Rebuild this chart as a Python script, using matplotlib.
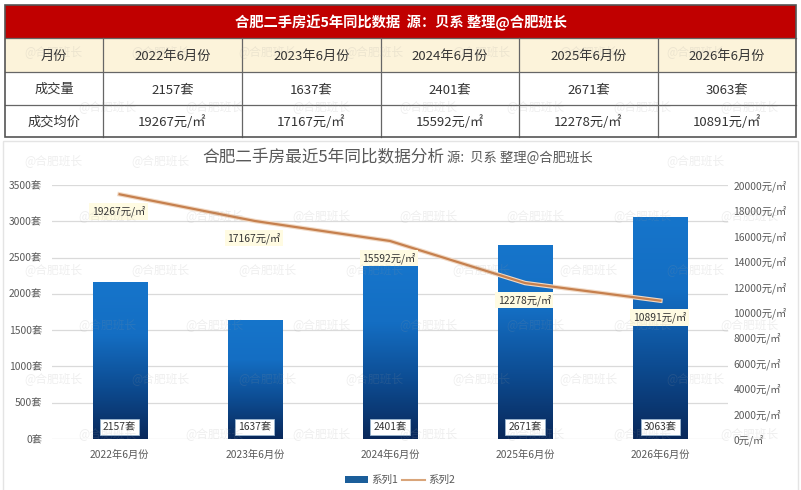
import matplotlib

matplotlib.use("Agg")
import matplotlib.pyplot as plt
import matplotlib.patheffects as pe
import numpy as np
from matplotlib.colors import LinearSegmentedColormap
from matplotlib.lines import Line2D
from matplotlib.patches import Patch, Rectangle

plt.rcParams["font.family"] = ["Noto Sans CJK SC", "DejaVu Sans"]

# data
months = ["2022年6月份", "2023年6月份", "2024年6月份", "2025年6月份", "2026年6月份"]
volumes = [2157, 1637, 2401, 2671, 3063]
prices = [19267, 17167, 15592, 12278, 10891]
vol_ticks = [0, 500, 1000, 1500, 2000, 2500, 3000, 3500]
price_ticks = [0, 2000, 4000, 6000, 8000, 10000, 12000, 14000, 16000, 18000, 20000]

table_title = "合肥二手房近5年同比数据  源：贝系 整理@合肥班长"
chart_title = "合肥二手房最近5年同比数据分析"
chart_source = "源:  贝系 整理@合肥班长"
row_names = ["月份", "成交量", "成交均价"]

W, H = 801, 490
RED = "#C00000"
GREY = "#595959"
LINE = "#C6804E"

fig = plt.figure(figsize=(W / 100, H / 100), dpi=100)
bg = fig.add_axes([0, 0, 1, 1])
bg.set_xlim(0, W)
bg.set_ylim(H, 0)
bg.axis("off")

# ---- table ----
col_x = [5, 103, 242, 381, 519, 658, 796]
row_y = [5, 38, 72, 105, 137]
bg.add_patch(Rectangle((col_x[0], row_y[0]), col_x[-1] - col_x[0], row_y[1] - row_y[0],
                       facecolor=RED, edgecolor="none", zorder=1))
bg.add_patch(Rectangle((col_x[0], row_y[1]), col_x[-1] - col_x[0], row_y[2] - row_y[1],
                       facecolor="#FCF3DA", edgecolor="none", zorder=1))
bg.text((col_x[0] + col_x[-1]) / 2, (row_y[0] + row_y[1]) / 2 + 1, table_title,
        color="white", fontsize=10.3, fontweight="bold", ha="center", va="center", zorder=3)
for y in row_y[1:-1]:
    bg.plot([col_x[0], col_x[-1]], [y, y], color="#666666", lw=0.9, zorder=2)
for x in col_x[1:-1]:
    bg.plot([x, x], [row_y[1], row_y[-1]], color="#666666", lw=0.9, zorder=2)
bg.add_patch(Rectangle((col_x[0], row_y[0]), col_x[-1] - col_x[0], row_y[-1] - row_y[0],
                       facecolor="none", edgecolor="#555555", lw=1.2, zorder=2))

cells = [months, [f"{v}套" for v in volumes], [f"{p}元/㎡" for p in prices]]
for r, (name, vals) in enumerate(zip(row_names, cells)):
    yc = (row_y[r + 1] + row_y[r + 2]) / 2 + 1
    bg.text((col_x[0] + col_x[1]) / 2, yc, name, fontsize=9.5, color="#333333",
            ha="center", va="center", zorder=3)
    for c, v in enumerate(vals):
        bg.text((col_x[c + 1] + col_x[c + 2]) / 2, yc, v, fontsize=9.5, color="#333333",
                ha="center", va="center", zorder=3)

# chart frame
bg.add_patch(Rectangle((3, 141), 795, 360, facecolor="none", edgecolor="#E4E4E4", lw=1, zorder=1))

# ---- chart ----
ax = fig.add_axes([52 / W, (H - 439) / H, 676 / W, 254 / H])
ax.patch.set_alpha(0)
x = np.arange(len(months))
bars = ax.bar(x, volumes, width=0.4, color="#1565B8", edgecolor="#6FC3EE", lw=0.6, zorder=2)
cmap = LinearSegmentedColormap.from_list("blu", ["#09285A", "#0D4C92", "#146EC3", "#1675CB"])
grad = np.linspace(0, 1, 256).reshape(-1, 1)
for b in bars:
    im = ax.imshow(grad, extent=[b.get_x(), b.get_x() + b.get_width(), 0, b.get_height()],
                   origin="lower", aspect="auto", cmap=cmap, zorder=2.1)
    im.set_clip_path(b)
ax.set_xlim(-0.5, len(months) - 0.5)
ax.set_ylim(0, 3500)
ax.set_yticks(vol_ticks)
ax.set_yticklabels([f"{v}套" for v in vol_ticks])
ax.set_xticks(x)
ax.set_xticklabels(months)
ax.tick_params(axis="both", length=0, labelsize=7.4, colors=GREY)
ax.tick_params(axis="y", pad=7)
ax.tick_params(axis="x", pad=8)
ax.grid(axis="y", color="#DADADA", lw=0.9)
ax.set_axisbelow(True)
for s in ax.spines.values():
    s.set_visible(False)

for i, v in enumerate(volumes):
    ax.annotate(f"{v}套", (i, 0), xytext=(0, 12), textcoords="offset pixels",
                ha="center", va="center", fontsize=7.4, color="#333333", zorder=4,
                bbox=dict(boxstyle="square,pad=0.3", facecolor="white", edgecolor="#9DB7D0", lw=0.6))

ax2 = ax.twinx()
ax2.set_ylim(0, 20000)
ax2.set_yticks(price_ticks)
ax2.set_yticklabels([f"{p}元/㎡" for p in price_ticks])
ax2.tick_params(axis="y", length=0, labelsize=7.4, colors=GREY, pad=4)
for s in ax2.spines.values():
    s.set_visible(False)
ax2.plot(x, prices, color=LINE, lw=1.6, zorder=3,
         path_effects=[pe.Stroke(linewidth=3.2, foreground="#F1D9C4"), pe.Normal()])
for i, p in enumerate(prices):
    ax2.annotate(f"{p}元/㎡", (i, p), xytext=(-1, -17), textcoords="offset pixels",
                 ha="center", va="center", fontsize=7.4, color="#333333", zorder=5,
                 bbox=dict(boxstyle="square,pad=0.25", facecolor="#FFFBE2", edgecolor="none"))

# title
fig.text(444 / W, 1 - 158 / H, chart_title, fontsize=12, color=GREY, ha="right", va="center")
fig.text(447 / W, 1 - 158 / H, chart_source, fontsize=9.6, color=GREY, ha="left", va="center")

# legend
handles = [Patch(facecolor="#1B5E9A", edgecolor="none"),
           Line2D([], [], color="#D9A57A", lw=1.5)]
fig.legend(handles, ["系列1", "系列2"], loc="center", bbox_to_anchor=(400 / W, 1 - 480 / H),
           ncol=2, frameon=False, fontsize=7.6, handlelength=2.2, handleheight=0.6,
           columnspacing=0.4, handletextpad=0.3, labelcolor=GREY)

# watermarks, kept inside the picture and off the chart title
for r, wy in enumerate(np.arange(52, 480, 54.5)):
    off = 0 if r % 2 else 53
    for wx in np.arange(off, W, 107):
        if wx < 35 or wx > W - 35:
            continue
        if abs(wy - 158) < 15 and 170 < wx < 630:
            continue
        fig.text(wx / W, 1 - wy / H, "@合肥班长", fontsize=8.5, color="#9A9A9A", alpha=0.16,
                 ha="center", va="center", zorder=10)

fig.savefig("out.png", dpi=100)
